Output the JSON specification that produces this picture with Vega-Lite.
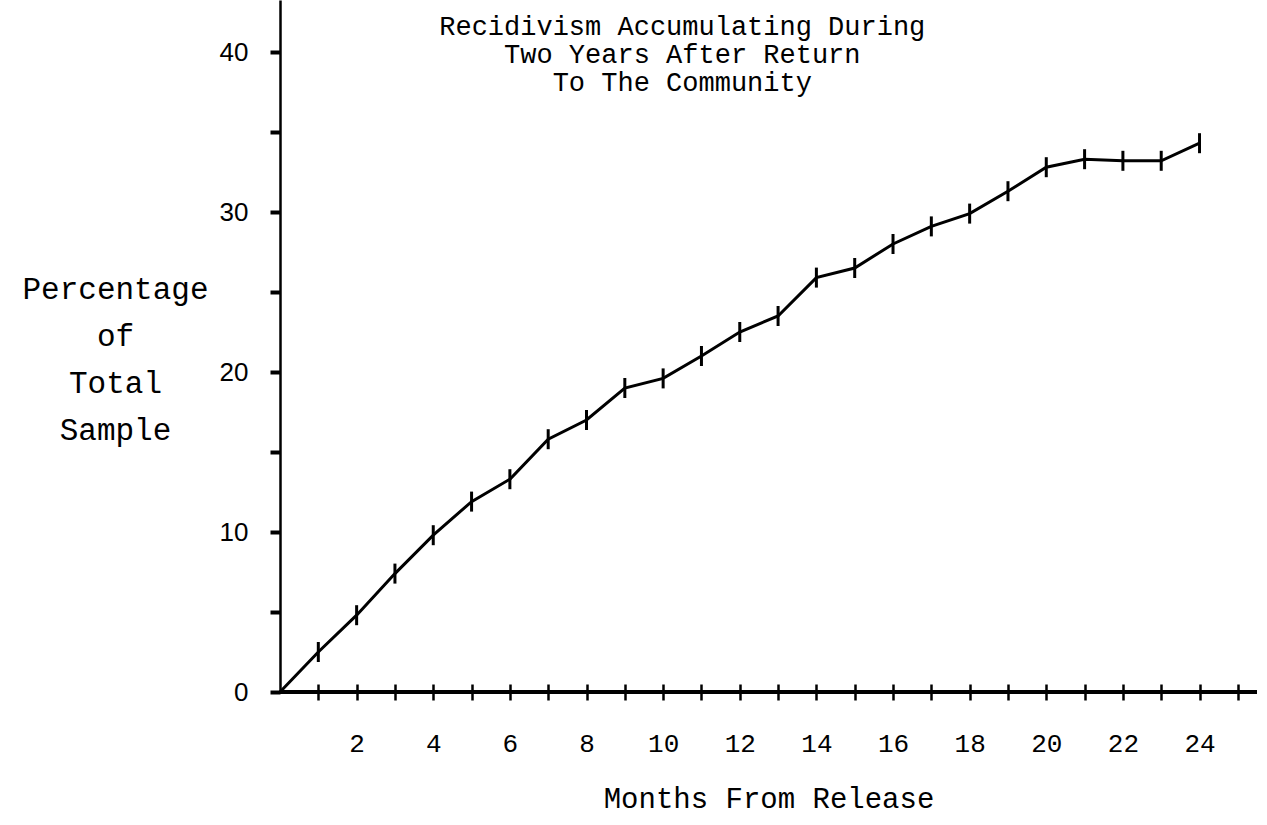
{
  "$schema": "https://vega.github.io/schema/vega-lite/v6.json",
  "autosize": {"type": "none"},
  "padding": {"left": 280, "top": 0, "right": 10, "bottom": 133},
  "width": 977,
  "height": 692,
  "background": "white",
  "config": {"view": {"stroke": null}},
  "data": {"values": [
    {"month": 0, "pct": 0},
    {"month": 1, "pct": 2.5},
    {"month": 2, "pct": 4.8},
    {"month": 3, "pct": 7.4},
    {"month": 4, "pct": 9.8},
    {"month": 5, "pct": 11.9},
    {"month": 6, "pct": 13.3},
    {"month": 7, "pct": 15.8},
    {"month": 8, "pct": 17.0},
    {"month": 9, "pct": 19.0},
    {"month": 10, "pct": 19.6},
    {"month": 11, "pct": 21.0},
    {"month": 12, "pct": 22.5},
    {"month": 13, "pct": 23.5},
    {"month": 14, "pct": 25.9},
    {"month": 15, "pct": 26.5},
    {"month": 16, "pct": 28.0},
    {"month": 17, "pct": 29.1},
    {"month": 18, "pct": 29.9},
    {"month": 19, "pct": 31.3},
    {"month": 20, "pct": 32.8},
    {"month": 21, "pct": 33.3},
    {"month": 22, "pct": 33.2},
    {"month": 23, "pct": 33.2},
    {"month": 24, "pct": 34.3}
  ]},
  "layer": [
    {
      "mark": {"type": "rule", "color": "black", "strokeWidth": 2.5},
      "encoding": {"y": {"datum": 0, "type": "quantitative"}}
    },
    {
      "mark": {"type": "line", "color": "black", "strokeWidth": 3},
      "encoding": {
        "x": {
          "field": "month", "type": "quantitative",
          "scale": {"domain": [0, 25.5], "nice": false, "zero": false},
          "axis": {
            "title": "Months From Release",
            "titleFont": "Liberation Mono", "titleFontSize": 29, "titleFontWeight": "normal",
            "titleColor": "black", "titlePadding": 28,
            "values": [1,2,3,4,5,6,7,8,9,10,11,12,13,14,15,16,17,18,19,20,21,22,23,24,25],
            "labelExpr": "datum.value % 2 === 0 ? datum.label : ''",
            "labelFont": "Liberation Mono", "labelFontSize": 26, "labelColor": "black",
            "labelPadding": 30,
            "domain": false, "grid": false,
            "offset": -8, "tickSize": 16, "tickWidth": 2.5, "tickColor": "black"
          }
        },
        "y": {
          "field": "pct", "type": "quantitative",
          "scale": {"domain": [0, 43.25], "nice": false},
          "axis": {
            "title": ["Percentage", "of", "Total", "Sample"],
            "titleAngle": 0, "titleAlign": "center", "titleBaseline": "top",
            "titleX": -165, "titleY": 274, "titleLineHeight": 47,
            "titleFont": "Liberation Mono", "titleFontSize": 31, "titleFontWeight": "normal",
            "titleColor": "black",
            "values": [0, 5, 10, 15, 20, 25, 30, 35, 40],
            "labelExpr": "datum.value % 10 === 0 ? datum.label : ''",
            "labelFont": "Liberation Sans", "labelFontSize": 26, "labelColor": "black",
            "labelPadding": 22,
            "domain": true, "domainColor": "black", "domainWidth": 2.5,
            "grid": false, "tickSize": 10, "tickWidth": 4, "tickColor": "black"
          }
        }
      }
    },
    {
      "transform": [{"filter": "datum.month > 0"}],
      "mark": {"type": "tick", "orient": "vertical", "color": "black", "opacity": 1, "size": 20, "thickness": 3},
      "encoding": {
        "x": {"field": "month", "type": "quantitative"},
        "y": {"field": "pct", "type": "quantitative"}
      }
    },
    {
      "data": {"values": [{}]},
      "mark": {
        "type": "text",
        "text": ["Recidivism Accumulating During", "Two Years After Return", "To The Community"],
        "font": "Liberation Mono", "fontSize": 27, "lineHeight": 28,
        "align": "center", "baseline": "top", "color": "black"
      },
      "encoding": {
        "x": {"datum": 10.5, "type": "quantitative"},
        "y": {"datum": 42.4, "type": "quantitative"}
      }
    }
  ]
}
